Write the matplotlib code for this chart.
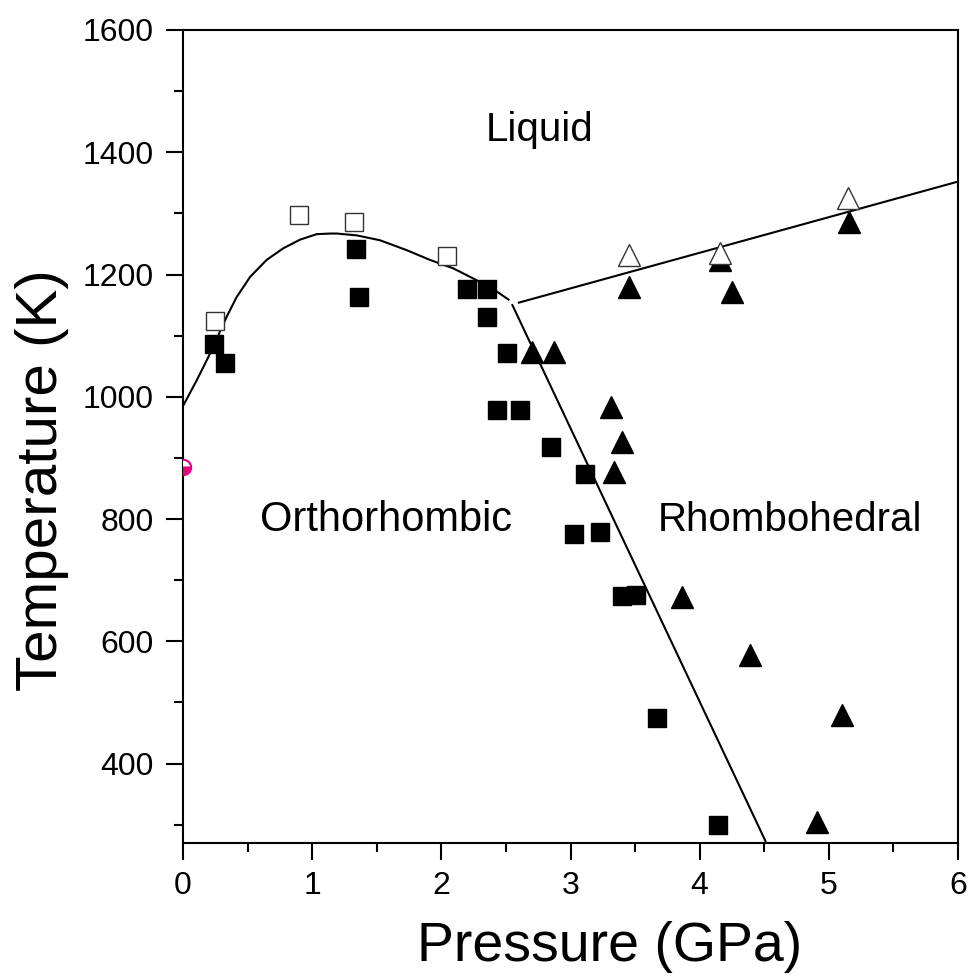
import matplotlib.pyplot as plt
from matplotlib.ticker import MultipleLocator

plt.rcParams['font.family'] = ['Liberation Sans', 'DejaVu Sans']

# closed squares (orthorhombic)
sq_p = [0.24, 0.325, 1.34, 1.365, 2.20, 2.355, 2.35, 2.506, 2.434, 2.61, 2.85, 3.11,
        3.027, 3.228, 3.396, 3.507, 3.67, 4.144]
sq_t = [1086, 1055, 1242, 1163, 1176, 1176, 1131, 1071, 978, 978, 918, 874,
        775, 778, 674, 676, 475, 300]

# open squares (melting, orthorhombic)
osq_p = [0.25, 0.90, 1.32, 2.04]
osq_t = [1124, 1298, 1286, 1230]

# closed triangles (rhombohedral)
tri_p = [2.70, 2.87, 3.31, 3.40, 3.34, 3.455, 4.157, 4.25, 5.16, 3.86, 4.39, 5.10, 4.91]
tri_t = [1073, 1073, 983, 926, 877, 1180, 1224, 1172, 1286, 672, 577, 479, 304]

# open triangles (melting, rhombohedral)
otri_p = [3.45, 4.157, 5.146]
otri_t = [1232, 1235, 1325]

# melting curve of orthorhombic phase
melt_p = [0.0, 0.106, 0.196, 0.274, 0.338, 0.415, 0.519, 0.648, 0.777, 0.906,
          1.035, 1.138, 1.19, 1.345, 1.525, 1.73, 1.91, 2.093, 2.27, 2.43, 2.52]
melt_t = [985, 1027, 1065, 1101, 1131, 1163, 1196, 1224, 1243, 1257,
          1266, 1267, 1267, 1264, 1256, 1240, 1224, 1210, 1191, 1172, 1159]

# orthorhombic / rhombohedral boundary
bound_p = [2.55, 4.51]
bound_t = [1150, 273]

# melting curve of rhombohedral phase
rmelt_p = [2.60, 6.0]
rmelt_t = [1154, 1352]

# ambient-pressure point
amb_p = [0.0]
amb_t = [885]

fig = plt.figure(figsize=(9.7, 9.8), dpi=100)
ax = fig.add_axes([0.1887, 0.1398, 0.7989, 0.8296])

ax.plot(melt_p, melt_t, color='k', lw=1.5, solid_joinstyle='round')
ax.plot(bound_p, bound_t, color='k', lw=1.5)
ax.plot(rmelt_p, rmelt_t, color='k', lw=1.5)

ax.plot(sq_p, sq_t, 's', ms=13, mfc='k', mec='k', ls='none')
ax.plot(osq_p, osq_t, 's', ms=13, mfc='white', mec='#333333', mew=1.0, ls='none')
ax.plot(tri_p, tri_t, '^', ms=16, mfc='k', mec='k', ls='none')
ax.plot(otri_p, otri_t, '^', ms=16, mfc='white', mec='#333333', mew=1.0, ls='none')
ax.plot(amb_p, amb_t, 'o', ms=11, fillstyle='bottom', mfc='#E6007E',
        mfcalt='white', mec='#E6007E', mew=1.5, ls='none', zorder=5)

ax.text(2.76, 1436, 'Liquid', fontsize=29, ha='center', va='center')
ax.text(1.57, 798, 'Orthorhombic', fontsize=30, ha='center', va='center')
ax.text(4.70, 798, 'Rhombohedral', fontsize=29, ha='center', va='center')

ax.set_xlim(0, 6)
ax.set_ylim(270, 1600)
ax.xaxis.set_major_locator(MultipleLocator(1))
ax.xaxis.set_minor_locator(MultipleLocator(0.5))
ax.yaxis.set_major_locator(MultipleLocator(200))
ax.yaxis.set_minor_locator(MultipleLocator(100))
ax.tick_params(which='major', direction='out', length=12, width=1.5,
               labelsize=23, top=False, right=False)
ax.tick_params(axis='x', which='major', pad=8)
ax.tick_params(axis='y', which='major', pad=9)
ax.tick_params(which='minor', direction='out', length=6.5, width=1.5,
               top=False, right=False)
for s in ax.spines.values():
    s.set_linewidth(1.5)

ax.set_xlabel('Pressure (GPa)', fontsize=40)
ax.set_ylabel('Temperature (K)', fontsize=42)
ax.xaxis.set_label_coords(0.551, -0.096)
ax.yaxis.set_label_coords(-0.147, 0.446)

fig.savefig('out.png', dpi=100)
